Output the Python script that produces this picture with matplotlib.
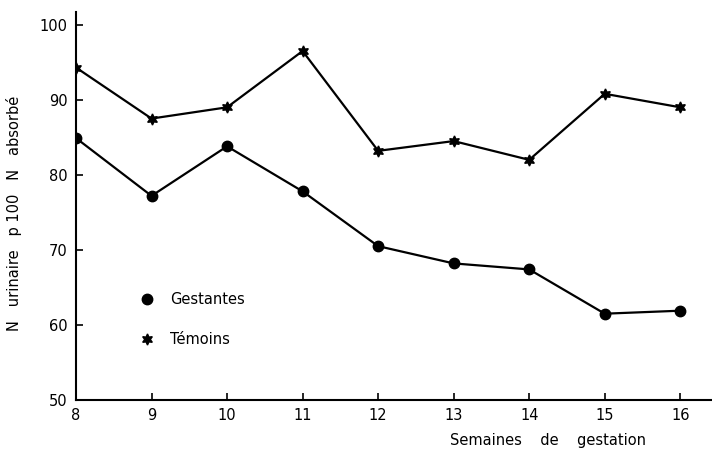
import matplotlib.pyplot as plt
import numpy as np

### Data
WEEKS = [8, 9, 10, 11, 12, 13, 14, 15, 16]
GESTANTES = [84.9, 77.2, 83.8, 77.8, 70.5, 68.2, 67.4, 61.5, 61.9]
TEMOINS = [94.3, 87.5, 89.0, 96.5, 83.2, 84.5, 82.0, 90.8, 89.0]
Y_TICKS = [50, 60, 70, 80, 90, 100]

plt.rcParams["font.family"] = ["DejaVu Sans"]

STAR = (6, 1, 0)  # six-pointed star like the original print

fig = plt.figure(figsize=(7.12, 4.53), dpi=100)
ax = fig.add_axes([76 / 712, 1 - 400 / 453, 1 - 76 / 712, (400 - 12) / 453])

ax.plot(WEEKS, TEMOINS, color="black", lw=1.6, marker=STAR, ms=8, zorder=3)
ax.plot(WEEKS, GESTANTES, color="black", lw=1.6, marker="o", ms=7.5, zorder=3)

ax.set_xlim(8, 16.42)
ax.set_ylim(50, 101.7)
ax.set_xticks(WEEKS)
ax.set_yticks(Y_TICKS)

ax.tick_params(axis="both", direction="in", length=5, width=1.2,
               labelsize=10.5, color="black", pad=6)

for side in ["top", "right"]:
    ax.spines[side].set_visible(False)
for side in ["left", "bottom"]:
    ax.spines[side].set_linewidth(1.5)

# legend drawn by hand
ax.plot([8.94], [63.4], marker="o", ms=7.5, color="black", ls="none")
ax.plot([8.94], [58.1], marker=STAR, ms=8, color="black", ls="none")
ax.text(9.25, 63.4, "Gestantes", fontsize=10.5, va="center", ha="left")
ax.text(9.25, 58.1, "Témoins", fontsize=10.5, va="center", ha="left")

# axis labels
fig.text(548 / 712, 1 - 440 / 453, "Semaines    de    gestation",
         fontsize=10.5, ha="center", va="center")
fig.text(14 / 712, 1 - 213 / 453, "N   urinaire   p 100   N   absorbé",
         fontsize=10.5, ha="center", va="center", rotation=90)

fig.savefig("out.png", dpi=100)
